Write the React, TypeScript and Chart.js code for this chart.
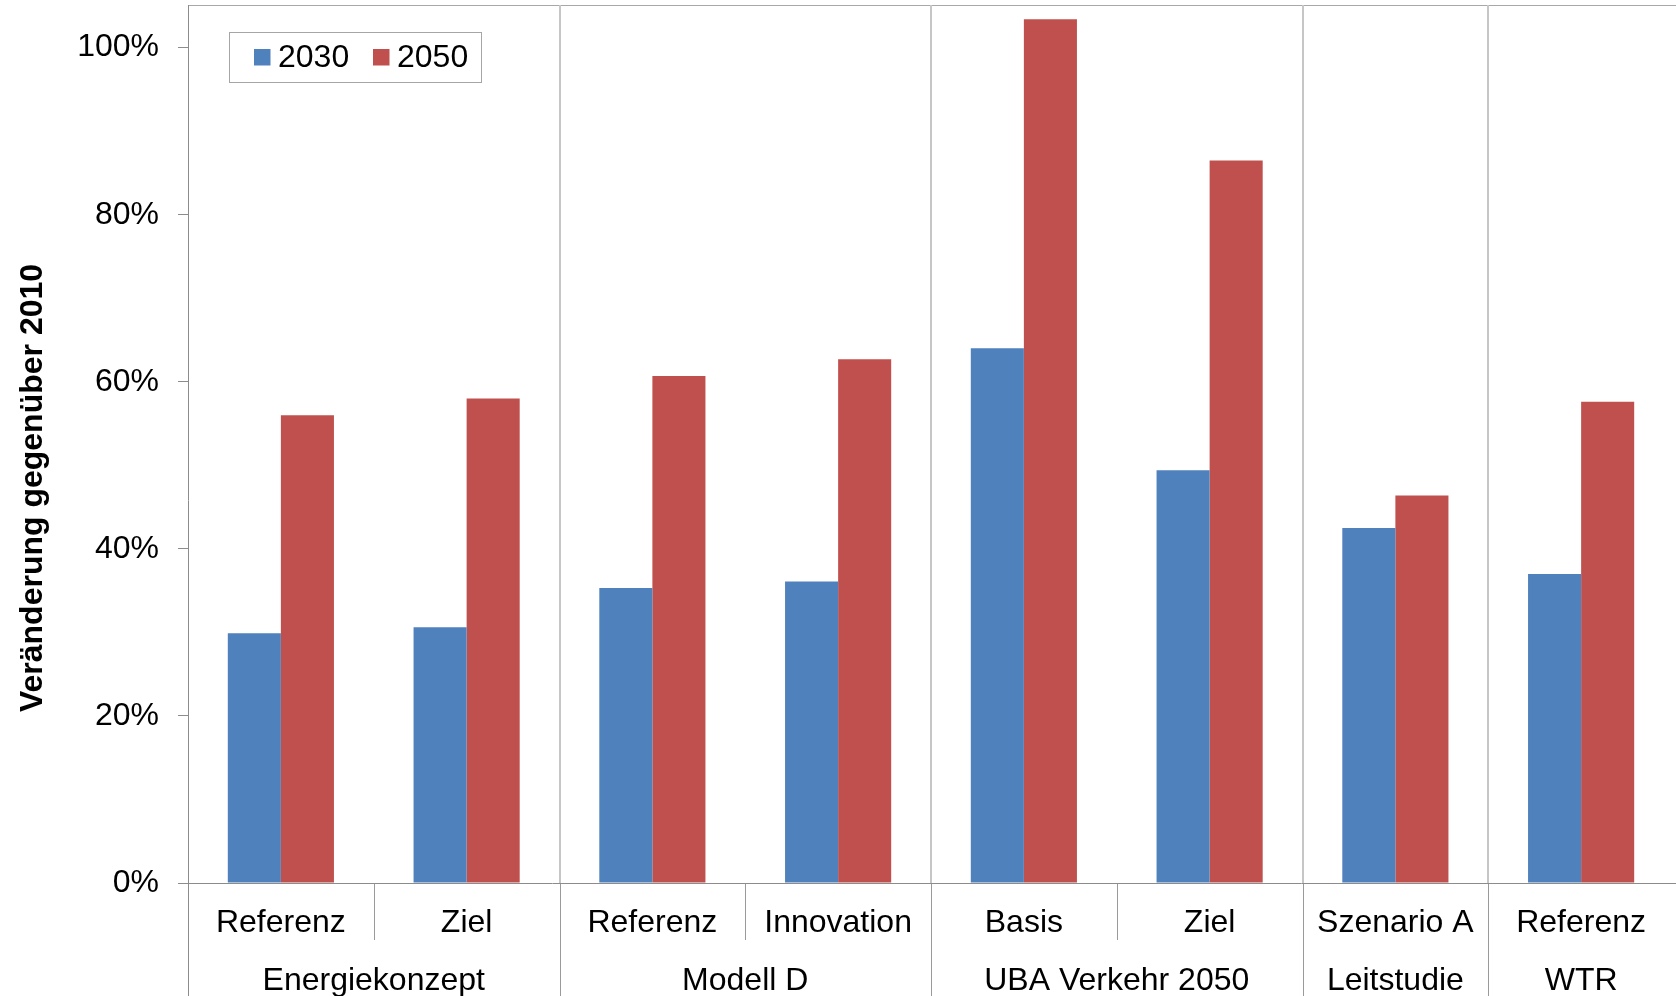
import React, { useEffect, useRef } from "react";
import { Chart, registerables } from "chart.js";

Chart.register(...registerables);

// Scenario labels (lower row) and study labels (upper grouping row)
const categories = ["Referenz", "Ziel", "Referenz", "Innovation", "Basis", "Ziel", "Szenario A", "Referenz"];
const groupLabels = ["Energiekonzept", "Modell D", "UBA Verkehr 2050", "Leitstudie", "WTR"];
const groupSizes = [2, 2, 2, 1, 1];

// Change relative to 2010, in percent
const values2030 = [29.9, 30.6, 35.3, 36.1, 64.0, 49.4, 42.5, 37.0];
const values2050 = [56.0, 58.0, 60.7, 62.7, 103.4, 86.5, 46.4, 57.6];

const yTicks = [0, 20, 40, 60, 80, 100];
const yMax = 105.1;
const yTitle = "Veränderung gegenüber 2010";

const FONT = "'Liberation Sans', Arial, sans-serif";
const AXIS = "#8c8c8c";

const decorPlugin = {
  id: "decor",
  afterDatasetsDraw(chart: any) {
    const { ctx, chartArea } = chart;
    const x = chart.scales.x;
    const H = chart.height;
    const W = chart.width;
    const left = chartArea.left;
    const top = chartArea.top;
    const bottom = chartArea.bottom;
    const px = (i: number) => x.getPixelForValue(i);
    const boundary = (i: number) => {
      // boundary after category i
      if (i < 0) return left;
      if (i >= categories.length - 1) return chartArea.right;
      return (px(i) + px(i + 1)) / 2;
    };

    ctx.save();
    // top frame
    ctx.strokeStyle = "#a8a8a8";
    ctx.lineWidth = 1;
    ctx.beginPath();
    ctx.moveTo(left, top + 0.5);
    ctx.lineTo(W, top + 0.5);
    ctx.stroke();

    // group separators
    let idx = 0;
    const groupBounds: [number, number][] = [];
    groupSizes.forEach((n, g) => {
      const start = boundary(idx - 1);
      const end = boundary(idx + n - 1);
      groupBounds.push([start, end]);
      // separators between sub-categories inside a group
      for (let k = 0; k < n - 1; k++) {
        const bx = Math.round(boundary(idx + k)) + 0.5;
        ctx.strokeStyle = "#9a9a9a";
        ctx.lineWidth = 1;
        ctx.beginPath();
        ctx.moveTo(bx, bottom);
        ctx.lineTo(bx, bottom + 57);
        ctx.stroke();
      }
      if (g < groupSizes.length - 1) {
        const bx = Math.round(end);
        ctx.strokeStyle = "#c6c6c6";
        ctx.lineWidth = 2;
        ctx.beginPath();
        ctx.moveTo(bx, top);
        ctx.lineTo(bx, bottom);
        ctx.stroke();
        ctx.strokeStyle = "#9a9a9a";
        ctx.lineWidth = 1;
        ctx.beginPath();
        ctx.moveTo(bx + 0.5, bottom);
        ctx.lineTo(bx + 0.5, H);
        ctx.stroke();
      }
      idx += n;
    });

    // left axis line running into the label area
    ctx.strokeStyle = AXIS;
    ctx.lineWidth = 1;
    ctx.beginPath();
    ctx.moveTo(left + 0.5, top);
    ctx.lineTo(left + 0.5, H);
    ctx.stroke();

    // zero line
    const y0 = Math.round(chart.scales.y.getPixelForValue(0)) + 0.5;
    ctx.beginPath();
    ctx.moveTo(left - 10, y0);
    ctx.lineTo(W, y0);
    ctx.stroke();

    // category labels
    ctx.fillStyle = "#000";
    ctx.font = `32px ${FONT}`;
    ctx.textAlign = "center";
    ctx.textBaseline = "alphabetic";
    categories.forEach((c, i) => ctx.fillText(c, px(i), bottom + 49));
    groupLabels.forEach((g, i) => {
      const [a, b] = groupBounds[i];
      ctx.fillText(g, (a + b) / 2, bottom + 107);
    });

    // axis title
    ctx.save();
    ctx.translate(42, 488);
    ctx.rotate(-Math.PI / 2);
    ctx.font = `bold 32px ${FONT}`;
    ctx.textAlign = "center";
    ctx.fillText(yTitle, 0, 0);
    ctx.restore();

    // legend box
    const lx = 229.5, ly = 32.5, lw = 252, lh = 50;
    ctx.fillStyle = "#fff";
    ctx.fillRect(lx, ly, lw, lh);
    ctx.strokeStyle = "#a6a6a6";
    ctx.lineWidth = 1;
    ctx.strokeRect(lx, ly, lw, lh);
    const ds = chart.data.datasets;
    const entryX = [254, 373];
    ctx.font = `32px ${FONT}`;
    ctx.textAlign = "left";
    ds.forEach((d: any, i: number) => {
      ctx.fillStyle = d.backgroundColor;
      ctx.fillRect(entryX[i], 49, 16.5, 16.5);
      ctx.fillStyle = "#000";
      ctx.fillText(d.label, entryX[i] + 24, 66.5);
    });
    ctx.restore();
  },
};

export default function App() {
  const canvasRef = useRef<HTMLCanvasElement | null>(null);

  useEffect(() => {
    document.body.style.margin = "0";
    const canvas = canvasRef.current;
    if (!canvas) return;
    const chart = new Chart(canvas, {
      type: "bar",
      data: {
        labels: categories,
        datasets: [
          { label: "2030", data: values2030, backgroundColor: "#4F81BD", borderWidth: 0 },
          { label: "2050", data: values2050, backgroundColor: "#C0504D", borderWidth: 0 },
        ],
      },
      options: {
        responsive: false,
        animation: false,
        devicePixelRatio: 1,
        layout: { padding: { top: 5, right: 2, bottom: 113, left: 0 } },
        datasets: { bar: { categoryPercentage: 0.5714, barPercentage: 1 } },
        plugins: {
          legend: { display: false },
          tooltip: { enabled: false },
          title: { display: false },
        },
        scales: {
          x: {
            display: false,
            offset: true,
            grid: { display: false },
          },
          y: {
            min: 0,
            max: yMax,
            afterFit: (scale: any) => {
              scale.width = 188;
              scale.paddingTop = 0;
              scale.paddingBottom = 0;
            },
            afterBuildTicks: (scale: any) => {
              scale.ticks = yTicks.map((v) => ({ value: v }));
            },
            border: { display: false },
            grid: {
              display: true,
              drawOnChartArea: false,
              drawTicks: true,
              tickLength: 10,
              color: AXIS,
              lineWidth: 1,
            },
            ticks: {
              padding: 19,
              color: "#000",
              font: { family: FONT, size: 32 },
              callback: (v: any) => `${v}%`,
            },
          },
        },
      },
      plugins: [decorPlugin],
    });
    return () => chart.destroy();
  }, []);

  return (
    <canvas
      ref={canvasRef}
      width={1676}
      height={996}
      style={{ display: "block", width: 1676, height: 996 }}
    />
  );
}
